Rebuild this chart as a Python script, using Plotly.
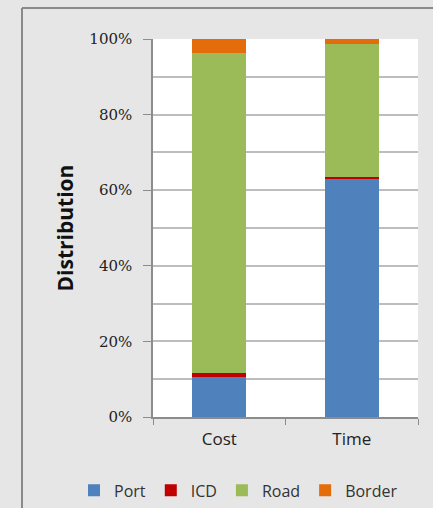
import plotly.graph_objects as go

categories = ["Cost", "Time"]
port = [10.5, 63.0]
icd = [1.2, 0.6]
road = [84.5, 35.0]
border = [3.8, 1.4]
series_names = ["Port", "ICD", "Road", "Border"]
colors = ["#4F81BD", "#C00000", "#9BBB59", "#E46C0A"]
tick_vals = [0, 20, 40, 60, 80, 100]

fig = go.Figure()
for name, vals, col in zip(series_names, [port, icd, road, border], colors):
    fig.add_trace(go.Bar(
        x=categories, y=vals, name=name,
        marker=dict(color=col, line=dict(width=0)),
    ))

PL, PR, PT, PB = 153, 418, 39, 417.5
pw, ph = PR - PL, PB - PT

fig.update_layout(
    barmode="stack",
    bargap=0.59,
    width=433, height=508,
    margin=dict(l=PL, r=433 - PR, t=PT, b=508 - PB, autoexpand=False),
    paper_bgcolor="#E6E6E6",
    plot_bgcolor="#FFFFFF",
    showlegend=True,
    legend=dict(
        orientation="h", x=(74 - PL) / pw, xanchor="left", xref="paper",
        y=(PB - 491) / ph, yref="paper", yanchor="middle",
        font=dict(family="Open Sans", size=16, color="#333333"),
        itemwidth=30, traceorder="normal",
        bgcolor="rgba(0,0,0,0)",
    ),
    yaxis=dict(
        range=[0, 100],
        tickvals=tick_vals,
        ticktext=[f"{v}%" for v in tick_vals],
        ticks="outside", ticklen=8, tickcolor="#8C8C8C",
        ticklabelstandoff=8,
        showline=True, linecolor="#8C8C8C", linewidth=1.5,
        showgrid=True, gridcolor="#BDBDBD", gridwidth=1.5,
        minor=dict(dtick=10, tick0=0, showgrid=True, gridcolor="#BDBDBD", gridwidth=1.5, ticks=""),
        tickfont=dict(family="DejaVu Serif", size=15, color="#222222"),
        title=dict(text="<b>Distribution</b>", font=dict(family="Open Sans", size=21, color="#111111"), standoff=10),
        zeroline=False, fixedrange=True,
    ),
    xaxis=dict(
        showline=True, linecolor="#8C8C8C", linewidth=1.5,
        ticks="outside", tickson="boundaries", ticklen=6, tickcolor="#8C8C8C",
        ticklabelstandoff=6,
        tickfont=dict(family="Open Sans", size=17, color="#222222"),
        showgrid=False,
    ),
)
# outer frame lines
fx = (22 - PL) / pw
fy = (PB - 8) / ph
fig.add_shape(type="line", xref="paper", yref="paper", x0=fx, x1=2, y0=fy, y1=fy,
              line=dict(color="#8A8A8A", width=2))
fig.add_shape(type="line", xref="paper", yref="paper", x0=fx, x1=fx, y0=fy, y1=-1,
              line=dict(color="#8A8A8A", width=2))

fig.write_html("out.html")
